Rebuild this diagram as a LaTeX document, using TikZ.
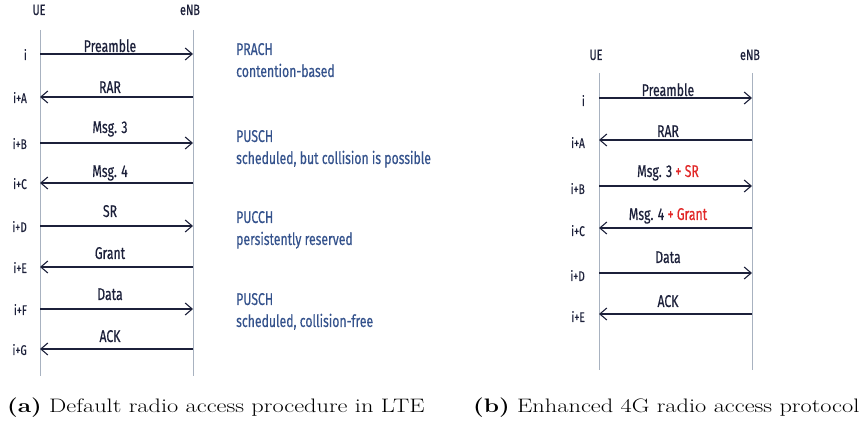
\documentclass[tikz,border=0pt]{standalone}
\usepackage{fontspec}
\usetikzlibrary{arrows.meta}
\newfontfamily\diafont[FakeStretch=0.72,FakeBold=0.4]{Fira Sans}
\definecolor{lifegray}{RGB}{168,178,192}
\definecolor{msgnavy}{RGB}{28,32,58}
\definecolor{noteblue}{RGB}{52,82,140}
\definecolor{addred}{RGB}{225,40,40}
\newcommand\addon[1]{\textcolor{addred}{+ #1}}
\tikzset{
  lifeline/.style={draw=lifegray, line width=1pt},
  msg/.style={draw=msgnavy, line width=1.1pt, -{Straight Barb[length=7pt,width=12pt]}},
  msgtext/.style={font=\diafont\fontsize{17}{19}\selectfont, text=msgnavy, anchor=base, inner sep=0pt},
  tick/.style={font=\diafont\fontsize{14}{16}\selectfont, text=msgnavy, anchor=base east, inner sep=0pt},
  party/.style={font=\diafont\fontsize{15}{17}\selectfont, text=msgnavy, anchor=base, inner sep=0pt},
  note/.style={font=\diafont\fontsize{17}{19}\selectfont, text=noteblue, anchor=base west, inner sep=0pt},
  caption/.style={font=\fontsize{19.5}{22}\selectfont, anchor=base west, inner sep=0pt}
}
\begin{document}
\begin{tikzpicture}[x=1pt,y=-1pt]
\useasboundingbox (0,0) rectangle (862,427);
% (a) default procedure
\node[party] (ueA) at (39,15) {UE};
\node[party] (enbA) at (190,15) {eNB};
\coordinate (ueAtop) at (40,30);
\coordinate (ueAbot) at (40,376);
\coordinate (enbAtop) at (193,30);
\coordinate (enbAbot) at (193,376);
\draw[lifeline] (ueAtop) -- (ueAbot);
\draw[lifeline] (enbAtop) -- (enbAbot);
\foreach \y/\g/\t/\m/\s [count=\k] in {54/2/i/Preamble/1, 97/4/i+A/RAR/0, 143/10/i+B/Msg. 3/1, 183/6/i+C/Msg. 4/0,
    226/9/i+D/SR/1, 267/8/i+E/Grant/0, 309/9/i+F/Data/1, 349/7/i+G/ACK/0}
  {\coordinate (ua\k) at (40,\y);
   \coordinate (ea\k) at (193,\y);
   \node[tick] (ta\k) at (27,\y+6) {\t};
   \node[msgtext] (ma\k) at (110,\y-\g) {\m};
   \ifnum\s=1 \draw[msg] (ua\k) -- (ea\k); \else \draw[msg] (ea\k) -- (ua\k); \fi}
% channel notes
\foreach \y/\h/\d [count=\k] in {55/PRACH/contention-based, 142/PUSCH/{scheduled, but collision is possible},
    223/PUCCH/persistently reserved, 305/PUSCH/{scheduled, collision-free}}
  {\node[note] (nh\k) at (236,\y) {\h};
   \node[note] (nb\k) at (236,\y+22) {\d};}
% (b) enhanced protocol
\node[party] (ueB) at (596,60) {UE};
\node[party] (enbB) at (750,60) {eNB};
\coordinate (ueBtop) at (599,73);
\coordinate (ueBbot) at (599,370);
\coordinate (enbBtop) at (752,73);
\coordinate (enbBbot) at (752,370);
\draw[lifeline] (ueBtop) -- (ueBbot);
\draw[lifeline] (enbBtop) -- (enbBbot);
\foreach \y/\g/\t/\m/\s [count=\k] in {98/2/i/Preamble/1, 140/3/i+A/RAR/0, 186/9/i+B/{Msg. 3 \addon{SR}}/1,
    228/8/i+C/{Msg. 4 \addon{Grant}}/0, 273/10/i+D/Data/1, 314/7/i+E/ACK/0}
  {\coordinate (ub\k) at (599,\y);
   \coordinate (eb\k) at (752,\y);
   \node[tick] (tb\k) at (585,\y+8) {\t};
   \node[msgtext] (mb\k) at (668,\y-\g) {\m};
   \ifnum\s=1 \draw[msg] (ub\k) -- (eb\k); \else \draw[msg] (eb\k) -- (ub\k); \fi}
% captions
\node[caption] (capA) at (7,413) {\scalebox{1.25}[1]{\textbf{(a)} Default radio access procedure in LTE}};
\node[caption] (capB) at (473,413) {\scalebox{1.25}[1]{\textbf{(b)} Enhanced 4G radio access protocol}};
\end{tikzpicture}
\end{document}
